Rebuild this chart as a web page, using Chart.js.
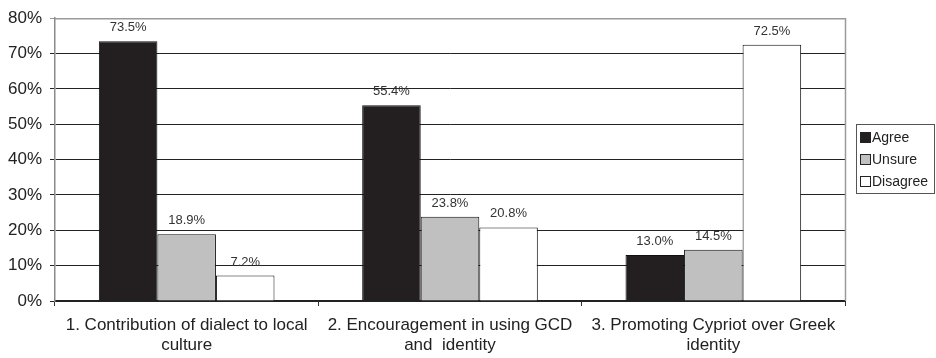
<!DOCTYPE html>
<html>
<head>
<meta charset="utf-8">
<script src="https://cdn.jsdelivr.net/npm/chart.js@4/dist/chart.umd.min.js"></script>
<style>
  html, body { margin: 0; padding: 0; background: #ffffff; }
  #wrap { width: 936px; height: 358px; }
</style>
</head>
<body>
<div id="wrap"><canvas id="c" width="936" height="358"></canvas></div>
<script>
const categories = [
  ["1. Contribution of dialect to local", "culture"],
  ["2. Encouragement in using GCD", "and  identity"],
  ["3. Promoting Cypriot over Greek", "identity"]
];
const agree = [73.5, 55.4, 13.0];
const unsure = [18.9, 23.8, 14.5];
const disagree = [7.2, 20.8, 72.5];
const seriesNames = ["Agree", "Unsure", "Disagree"];
const yTicks = [0, 10, 20, 30, 40, 50, 60, 70, 80];

const FONT = "'Liberation Sans', Arial, sans-serif";

// value labels above each bar
const valueLabels = {
  id: 'valueLabels',
  afterDatasetsDraw(chart) {
    const ctx = chart.ctx;
    ctx.save();
    ctx.font = '13px ' + FONT;
    ctx.fillStyle = '#333333';
    ctx.textAlign = 'center';
    ctx.textBaseline = 'alphabetic';
    chart.data.datasets.forEach((ds, i) => {
      chart.getDatasetMeta(i).data.forEach((bar, j) => {
        ctx.fillText(ds.data[j].toFixed(1) + '%', bar.x, bar.y - 10);
      });
    });
    ctx.restore();
  }
};

// plot frame (top/right) and boxed legend on the right
const frameAndLegend = {
  id: 'frameAndLegend',
  beforeDatasetsDraw(chart) {
    const { ctx, chartArea: a } = chart;
    ctx.save();
    ctx.strokeStyle = '#9a9a9a';
    ctx.lineWidth = 1.5;
    ctx.beginPath();
    ctx.moveTo(a.left, a.top + 0.5);
    ctx.lineTo(a.right + 0.5, a.top + 0.5);
    ctx.lineTo(a.right + 0.5, a.bottom);
    ctx.stroke();
    ctx.restore();
  },
  afterDraw(chart) {
    const ctx = chart.ctx;
    ctx.save();
    const bx = 856.5, by = 124.5, bw = 78, bh = 69;
    ctx.strokeStyle = '#555555';
    ctx.lineWidth = 1;
    ctx.strokeRect(bx, by, bw, bh);
    ctx.font = '14px ' + FONT;
    ctx.textBaseline = 'middle';
    ctx.textAlign = 'left';
    chart.data.datasets.forEach((ds, i) => {
      const cy = 137.5 + i * 22;
      ctx.fillStyle = ds.backgroundColor;
      ctx.fillRect(860.5, cy - 5, 10, 10);
      ctx.strokeStyle = '#222222';
      ctx.strokeRect(860.5, cy - 5, 10, 10);
      ctx.fillStyle = '#222222';
      ctx.fillText(seriesNames[i], 872, cy + 1);
    });
    ctx.restore();
  }
};

new Chart(document.getElementById('c'), {
  type: 'bar',
  data: {
    labels: categories,
    datasets: [
      { label: seriesNames[0], data: agree, backgroundColor: '#231f20', borderColor: '#111111', borderWidth: 1 },
      { label: seriesNames[1], data: unsure, backgroundColor: '#c0c0c0', borderColor: '#111111', borderWidth: 1 },
      { label: seriesNames[2], data: disagree, backgroundColor: '#ffffff', borderColor: '#111111', borderWidth: 1 }
    ]
  },
  options: {
    responsive: false,
    animation: false,
    devicePixelRatio: 1,
    layout: { padding: { left: 0, right: 91, top: 16, bottom: 0 } },
    datasets: { bar: { categoryPercentage: 0.667, barPercentage: 1.0 } },
    plugins: {
      legend: { display: false },
      tooltip: { enabled: false }
    },
    scales: {
      x: {
        grid: {
          offset: true,
          drawOnChartArea: false,
          drawTicks: true,
          tickLength: 5,
          color: '#333333'
        },
        border: { color: '#222222', width: 2 },
        ticks: {
          font: { family: FONT, size: 17, lineHeight: 1.15 },
          color: '#222222',
          padding: 10,
          maxRotation: 0,
          autoSkip: false
        },
        afterFit(scale) { scale.height = 57; }
      },
      y: {
        min: 0,
        max: 80,
        afterBuildTicks(scale) { scale.ticks = yTicks.map(v => ({ value: v })); },
        grid: {
          color: ctx => (ctx.tick && ctx.tick.value === 80) ? '#9a9a9a' : '#222222',
          lineWidth: 1,
          drawTicks: true,
          tickLength: 5
        },
        border: { color: '#8a8a8a', width: 1.5 },
        ticks: {
          font: { family: FONT, size: 17 },
          color: '#222222',
          padding: 8,
          callback: v => v + '%'
        },
        afterFit(scale) { scale.width = 55; }
      }
    }
  },
  plugins: [valueLabels, frameAndLegend]
});
</script>
</body>
</html>
